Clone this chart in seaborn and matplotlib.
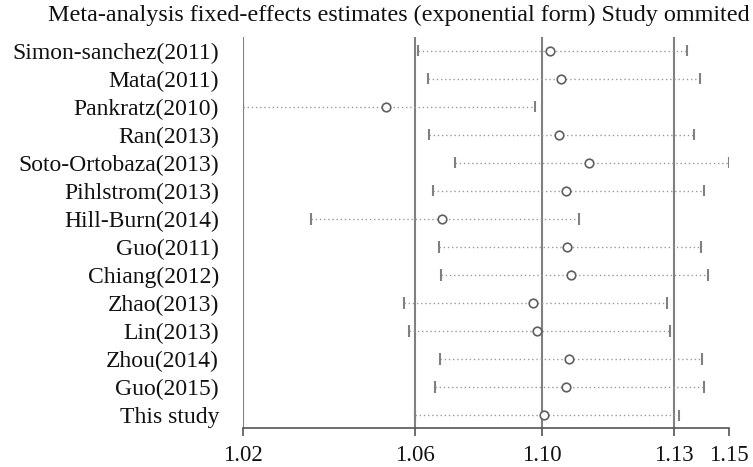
import matplotlib
matplotlib.use('Agg')
import matplotlib.pyplot as plt
import seaborn as sns
import pandas as pd

# leave-one-out estimates
studies = ['Simon-sanchez(2011)', 'Mata(2011)', 'Pankratz(2010)', 'Ran(2013)',
           'Soto-Ortobaza(2013)', 'Pihlstrom(2013)', 'Hill-Burn(2014)', 'Guo(2011)',
           'Chiang(2012)', 'Zhao(2013)', 'Lin(2013)', 'Zhou(2014)', 'Guo(2015)',
           'This study']
estimate = [1.0990, 1.1021, 1.0546, 1.1015, 1.1096, 1.1035, 1.0698, 1.1038,
            1.1049, 1.0945, 1.0956, 1.1042, 1.1035, 1.0974]
lower = [1.0634, 1.0661, 1.0157, 1.0663, 1.0733, 1.0673, 1.0342, 1.0690,
         1.0694, 1.0594, 1.0608, 1.0692, 1.0678, 1.0624]
upper = [1.1364, 1.1398, 1.0950, 1.1382, 1.1477, 1.1409, 1.1069, 1.1401,
         1.1420, 1.1309, 1.1318, 1.1403, 1.1409, 1.1341]

# axis ticks: min lower, combined lower, combined estimate, combined upper, max upper
tick_values = [1.0157, 1.0624, 1.0970, 1.1327, 1.1477]

sns.set_theme(style='white')
plt.rcParams['font.family'] = ['Liberation Serif', 'DejaVu Serif']

df = pd.DataFrame({'study': studies, 'est': estimate, 'low': lower, 'up': upper})
df['row'] = range(len(df))

fig = plt.figure(figsize=(7.53, 4.67), dpi=100)
ax = fig.add_axes([0.3223, 0.0835, 0.6458, 0.8373])

# reference lines at the first four ticks
for v in tick_values[:4]:
    ax.axvline(v, color='#808080', lw=1.5, zorder=1)

# dotted CI lines with caps
ax.hlines(df['row'], df['low'], df['up'], colors='#9a9a9a',
          linestyles=(0, (1, 2)), lw=1, zorder=2)
ax.vlines(df['low'], df['row'] - 0.2, df['row'] + 0.2, colors='#808080', lw=1.5, zorder=2)
ax.vlines(df['up'], df['row'] - 0.2, df['row'] + 0.2, colors='#808080', lw=1.5, zorder=2)

sns.scatterplot(data=df, x='est', y='row', ax=ax, marker='o', s=38,
                facecolor='white', edgecolor='#5f5f5f', linewidth=1.2,
                zorder=3, legend=False)

ax.set_xlim(tick_values[0], tick_values[-1])
ax.set_ylim(len(df) - 0.54, -0.49)
ax.set_xticks(tick_values, [f'{v:.2f}' for v in tick_values])
ax.set_yticks(df['row'], df['study'])
ax.set_xlabel('')
ax.set_ylabel('')

for side in ['top', 'right', 'left']:
    ax.spines[side].set_visible(False)
ax.spines['bottom'].set_color('#555555')
ax.spines['bottom'].set_linewidth(1.2)

ax.tick_params(axis='x', direction='out', length=6, width=1.2, color='#555555',
               labelsize=16.5, pad=6, bottom=True, labelcolor='#111111')
ax.tick_params(axis='y', length=0, labelsize=17, pad=17, labelcolor='#111111')

fig.text(0.53, 0.966, 'Meta-analysis fixed-effects estimates (exponential form) Study ommited',
         ha='center', va='center', fontsize=17.4, color='#111111')

fig.savefig('out.png', dpi=100)
